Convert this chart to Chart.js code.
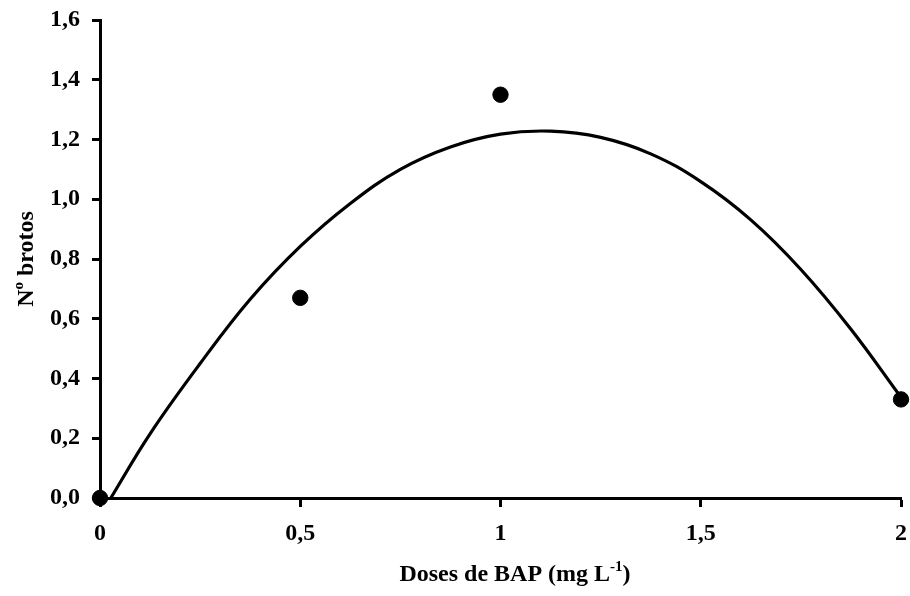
<!DOCTYPE html>
<html>
<head>
<meta charset="utf-8">
<script src="https://cdn.jsdelivr.net/npm/chart.js@4"></script>
<style>
  html, body { margin: 0; padding: 0; background: #fff; }
  #wrap { width: 910px; height: 596px; }
</style>
</head>
<body>
<div id="wrap"><canvas id="chartBrotos" width="910" height="596"></canvas></div>
<script>
// dados observados
var doses = [0, 0.5, 1, 2];
var brotos = [0, 0.67, 1.35, 0.33];

// curva ajustada
var curvaX = [0.027, 0.125, 0.25, 0.375, 0.5, 0.625, 0.75, 0.875, 1.0, 1.125, 1.25, 1.375, 1.5, 1.625, 1.75, 1.875, 2.0];
var curvaY = [0, 0.215, 0.45, 0.665, 0.842, 0.986, 1.10, 1.175, 1.218, 1.228, 1.207, 1.152, 1.059, 0.931, 0.765, 0.565, 0.337];

var xTicks = [0, 0.5, 1, 1.5, 2];
var yTicks = [0, 0.2, 0.4, 0.6, 0.8, 1.0, 1.2, 1.4, 1.6];

var FONTE = "'Liberation Serif', 'Times New Roman', serif";

var pontos = [];
for (var i = 0; i < doses.length; i++) pontos.push({ x: doses[i], y: brotos[i] });
var curva = [];
for (var i = 0; i < curvaX.length; i++) curva.push({ x: curvaX[i], y: curvaY[i] });

function virgula(v) {
  return String(v).replace('.', ',');
}

// titulos dos eixos com sobrescrito
var titulosPlugin = {
  id: 'titulos',
  afterDraw: function (chart) {
    var c = chart.ctx;
    var area = chart.chartArea;
    c.save();
    c.fillStyle = '#000';
    c.textBaseline = 'alphabetic';

    // eixo x
    var big = 'bold 24px ' + FONTE;
    var small = 'bold 15px ' + FONTE;
    c.font = big;
    var a = 'Doses de BAP (mg L';
    var wa = c.measureText(a).width;
    c.font = small;
    var wb = c.measureText('-1').width;
    c.font = big;
    var wc = c.measureText(')').width;
    var cx = 515;
    var x0 = cx - (wa + wb + wc) / 2;
    var by = 581;
    c.textAlign = 'left';
    c.fillText(a, x0, by);
    c.font = small;
    c.fillText('-1', x0 + wa, by - 10);
    c.font = big;
    c.fillText(')', x0 + wa + wb, by);

    // eixo y
    c.translate(33, (area.top + area.bottom) / 2);
    c.rotate(-Math.PI / 2);
    c.font = big;
    var n = 'N';
    var wn = c.measureText(n).width;
    c.font = small;
    var wo = c.measureText('o').width;
    c.font = big;
    var r = ' brotos';
    var wr = c.measureText(r).width;
    var y0 = -(wn + wo + wr) / 2;
    c.fillText(n, y0, 0);
    c.font = small;
    c.fillText('o', y0 + wn, -10);
    c.font = big;
    c.fillText(r, y0 + wn + wo, 0);
    c.restore();
  }
};

new Chart(document.getElementById('chartBrotos'), {
  type: 'scatter',
  data: {
    datasets: [
      {
        label: 'Observado',
        data: pontos,
        backgroundColor: '#000',
        borderColor: '#000',
        pointRadius: 7.7,
        pointHoverRadius: 7.7,
        clip: false
      },
      {
        label: 'Ajuste',
        data: curva,
        showLine: true,
        borderColor: '#000',
        borderWidth: 3.2,
        pointRadius: 0,
        tension: 0.4,
        fill: false
      }
    ]
  },
  options: {
    responsive: false,
    animation: false,
    layout: { padding: { top: 20, right: 9, left: 0, bottom: 0 } },
    plugins: {
      legend: { display: false },
      tooltip: { enabled: false }
    },
    scales: {
      x: {
        type: 'linear',
        min: 0,
        max: 2,
        afterFit: function (s) {
          s.height = 98;
          s.paddingLeft = 0;
          s.paddingRight = 0;
        },
        afterBuildTicks: function (s) { s.ticks = xTicks.map(function (v) { return { value: v }; }); },
        ticks: {
          color: '#000',
          padding: 12,
          maxRotation: 0,
          font: { family: FONTE, size: 24, weight: 'bold' },
          callback: function (v) { return virgula(v); }
        },
        grid: { drawOnChartArea: false, drawTicks: true, tickLength: 9, tickWidth: 3, tickColor: '#000' },
        border: { display: true, color: '#000', width: 3 }
      },
      y: {
        type: 'linear',
        min: 0,
        max: 1.6,
        afterFit: function (s) {
          s.width = 100;
          s.paddingTop = 0;
          s.paddingBottom = 0;
        },
        afterBuildTicks: function (s) { s.ticks = yTicks.map(function (v) { return { value: v }; }); },
        ticks: {
          color: '#000',
          padding: 12,
          font: { family: FONTE, size: 24, weight: 'bold' },
          callback: function (v) { return v.toFixed(1).replace('.', ','); }
        },
        grid: { drawOnChartArea: false, drawTicks: true, tickLength: 8, tickWidth: 3, tickColor: '#000' },
        border: { display: true, color: '#000', width: 3 }
      }
    }
  },
  plugins: [titulosPlugin]
});
</script>
</body>
</html>
